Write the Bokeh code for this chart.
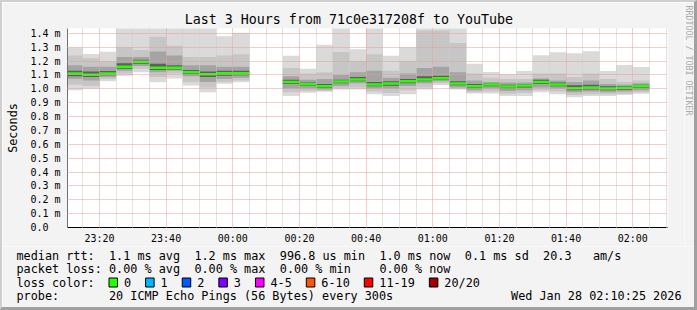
import math
from bokeh.plotting import figure
from bokeh.layouts import column, row
from bokeh.models import Range1d, FixedTicker, Title, ColumnDataSource
from bokeh.core.properties import value
from bokeh.embed import file_html
from bokeh.resources import INLINE

# ---------------- data ----------------
slot_end = ["23:15", "23:20", "23:25", "23:30", "23:35", "23:40", "23:45", "23:50", "23:55", "00:00", "00:05",
            "00:20", "00:25", "00:30", "00:35", "00:40", "00:45", "00:50", "00:55", "01:00", "01:05", "01:10",
            "01:15", "01:20", "01:25", "01:30", "01:35", "01:40", "01:45", "01:50", "01:55", "02:00", "02:05"]
median_ms = [1.110, 1.102, 1.110, 1.160, 1.195, 1.152, 1.152, 1.119, 1.105, 1.112, 1.112,
             1.050, 1.033, 1.019, 1.052, 1.067, 1.031, 1.038, 1.055, 1.067, 1.076, 1.038,
             1.019, 1.031, 1.017, 1.024, 1.050, 1.031, 1.005, 1.010, 1.002, 1.007, 1.019]
max_ms = [1.298, 1.252, 1.267, 1.44, 1.44, 1.44, 1.44, 1.44, 1.44, 1.380, 1.405,
          1.238, 1.145, 1.317, 1.44, 1.286, 1.44, 1.238, 1.300, 1.44, 1.44, 1.44,
          1.181, 1.121, 1.105, 1.129, 1.243, 1.264, 1.257, 1.271, 1.129, 1.171, 1.157]
p90_ms = [1.24, 1.22, 1.20, 1.30, 1.28, 1.375, 1.31, 1.23, 1.23, 1.24, 1.25,
          1.15, 1.11, 1.12, 1.265, 1.20, 1.25, 1.13, 1.20, 1.42, 1.42, 1.33,
          1.11, 1.08, 1.07, 1.07, 1.11, 1.11, 1.085, 1.11, 1.07, 1.05, 1.06]
p75_ms = [1.17, 1.16, 1.16, 1.23, 1.23, 1.27, 1.24, 1.17, 1.17, 1.16, 1.16,
          1.09, 1.065, 1.07, 1.10, 1.12, 1.13, 1.08, 1.11, 1.15, 1.16, 1.12,
          1.06, 1.05, 1.045, 1.045, 1.075, 1.06, 1.05, 1.06, 1.035, 1.03, 1.04]
p60_ms = [1.13, 1.125, 1.128, 1.185, 1.21, 1.18, 1.17, 1.135, 1.125, 1.13, 1.13,
          1.065, 1.045, 1.035, 1.065, 1.085, 1.05, 1.055, 1.07, 1.09, 1.095, 1.055,
          1.035, 1.04, 1.03, 1.035, 1.065, 1.045, 1.025, 1.03, 1.018, 1.02, 1.03]
p40_ms = [1.09, 1.085, 1.098, 1.145, 1.18, 1.135, 1.14, 1.105, 1.085, 1.095, 1.098,
          1.035, 1.02, 1.005, 1.04, 1.055, 1.018, 1.022, 1.04, 1.055, 1.066, 1.025,
          1.005, 1.018, 1.003, 1.01, 1.035, 1.018, 0.99, 0.995, 0.99, 0.993, 1.005]
p25_ms = [1.07, 1.06, 1.085, 1.13, 1.165, 1.12, 1.13, 1.09, 1.05, 1.07, 1.08,
          1.00, 1.00, 0.995, 1.02, 1.04, 1.00, 1.00, 1.02, 1.04, 1.055, 1.01,
          0.99, 1.00, 0.985, 0.99, 1.01, 1.00, 0.975, 0.98, 0.975, 0.98, 0.99]
p10_ms = [1.03, 1.02, 1.07, 1.11, 1.145, 1.085, 1.11, 1.05, 1.01, 1.05, 1.06,
          0.975, 0.985, 0.985, 1.005, 1.01, 0.98, 0.97, 0.99, 1.01, 1.04, 1.00,
          0.975, 0.98, 0.965, 0.97, 0.99, 0.98, 0.955, 0.96, 0.96, 0.965, 0.975]
min_ms = [0.990, 1.000, 1.055, 1.095, 1.120, 1.048, 1.074, 1.024, 0.976, 1.036, 1.048,
          0.948, 0.971, 0.978, 0.995, 0.995, 0.960, 0.948, 0.960, 0.995, 1.026, 0.995,
          0.967, 0.967, 0.948, 0.948, 0.976, 0.960, 0.940, 0.948, 0.948, 0.955, 0.964]

step_min = 5
window_end = "02:10:25"
window_hours = 3
x_tick_labels = ["23:20", "23:40", "00:00", "00:20", "00:40", "01:00", "01:20", "01:40", "02:00"]
y_ticks = [0.0, 0.1, 0.2, 0.3, 0.4, 0.5, 0.6, 0.7, 0.8, 0.9, 1.0, 1.1, 1.2, 1.3, 1.4]
y_max = 1.435

title_text = "Last 3 Hours from 71c0e317208f to YouTube"
y_label = "Seconds"
side_text = "RRDTOOL / TOBI OETIKER"
rtt_line = [(0, "median rtt:"), (13, "1.1 ms avg"), (25, "1.2 ms max"), (37, "996.8 us min"),
            (51, "1.0 ms now"), (63, "0.1 ms sd"), (74, "20.3"), (81, "am/s")]
loss_line = [(0, "packet loss:"), (13, "0.00 % avg"), (25, "0.00 % max"), (37, "0.00 % min"), (51, "0.00 % now")]
loss_title = "loss color:"
loss_labels = ["0", "1", "2", "3", "4-5", "6-10", "11-19", "20/20"]
loss_colors = ["#26ff00", "#00b8ff", "#0059ff", "#7e00ff", "#ff00ff", "#ff5500", "#ff0000", "#a10000"]
probe_line = [(0, "probe:"), (13, "20 ICMP Echo Pings (56 Bytes) every 300s")]
stamp_text = "Wed Jan 28 02:10:25 2026"


def to_min(hhmm):
    parts = [int(v) for v in hhmm.split(":")]
    m = parts[0] * 60 + parts[1] + (parts[2] / 60.0 if len(parts) > 2 else 0.0)
    return (m - 23 * 60) % (24 * 60)


x_end = to_min(window_end)
x_start = x_end - window_hours * 60
ends = [to_min(s) for s in slot_end]
src = ColumnDataSource(dict(
    left=[e - step_min for e in ends], right=ends,
    lo=min_ms, hi=[min(v, y_max + 0.01) for v in max_ms],
    p10=p10_ms, p90=p90_ms, p25=p25_ms, p75=p75_ms, p40=p40_ms, p60=p60_ms, med=median_ms))

MONO = "DejaVu Sans Mono"
BG = "#f3f3f3"
# whole image 697x310 = 2px/3px frame around a 692x305 content;
# content = [main chart | side credit strip] over legend strip
CONTENT_W, SIDE_W = 692, 10
MAIN_W = CONTENT_W - SIDE_W
MAIN_H, LEG_H = 244, 61
FL, FT = 65, 26
FW, FH = 600, 200

p = figure(width=MAIN_W, height=MAIN_H, output_backend="svg", toolbar_location=None, title=None,
           x_range=Range1d(x_start, x_end), y_range=Range1d(0, y_max),
           min_border_left=FL, min_border_right=MAIN_W - FL - FW, min_border_top=FT,
           min_border_bottom=MAIN_H - FT - FH,
           background_fill_color="white", border_fill_color=BG)
p.outline_line_color = None

# smoke layers + median
smoke = [("lo", "hi", "#dadada"), ("p10", "p90", "#c6c6c6"), ("p25", "p75", "#a4a4a4"), ("p40", "p60", "#5e5e5e")]
for b, t, c in smoke:
    p.quad(left="left", right="right", bottom=b, top=t, source=src, fill_color=c, line_color=None)
p.segment(x0="left", x1="right", y0="med", y1="med", source=src, line_color=loss_colors[0], line_width=2.5)

# axes
x_major = [to_min(s) for s in x_tick_labels]
x_minor = [m for m in range(int(math.ceil(x_start / step_min)) * step_min, int(x_end) + 1, step_min)
           if m not in x_major]
xt = FixedTicker(ticks=x_major, minor_ticks=x_minor)
p.xaxis.ticker = xt
p.xgrid.ticker = xt
p.xaxis.major_label_overrides = {m: lab for m, lab in zip(x_major, x_tick_labels)}
yt = FixedTicker(ticks=y_ticks)
p.yaxis.ticker = yt
p.ygrid.ticker = yt
p.yaxis.major_label_overrides = {v: ("%.1f m" % v if v > 0 else "0.0\u00a0\u00a0") for v in y_ticks}

for ax in (p.xaxis[0], p.yaxis[0]):
    ax.major_tick_out = 0
    ax.major_tick_in = 0
    ax.minor_tick_out = 0
    ax.minor_tick_in = 0
    ax.major_label_text_font = MONO
    ax.major_label_text_font_size = "10px"
    ax.major_label_text_color = "#000000"
p.xaxis.major_label_standoff = 5
p.yaxis.major_label_standoff = 7
p.xaxis.axis_line_color = "#000000"
p.yaxis.axis_line_color = "#707070"
p.yaxis.axis_label = y_label
p.yaxis.axis_label_text_font = MONO
p.yaxis.axis_label_text_font_size = "11.8px"
p.yaxis.axis_label_text_font_style = "normal"
p.yaxis.axis_label_text_color = "#000000"
p.yaxis.axis_label_standoff = 7

RED = "#e89a9a"
GREY = "#c8c8c8"
for g in (p.xgrid[0], p.ygrid[0]):
    g.level = "overlay"
    g.grid_line_color = RED
    g.grid_line_dash = "1 1"
    g.grid_line_width = 1
p.xgrid.minor_grid_line_color = GREY
p.xgrid.minor_grid_line_dash = "1 1"

p.add_layout(Title(text=title_text, align="left", offset=117.3, standoff=3,
                   text_font=MONO, text_font_size="13.3px", text_font_style="normal",
                   text_color="#000000"), "above")

# ---------------- side credit strip (its own pixel space) ----------------
side = figure(width=SIDE_W, height=MAIN_H, output_backend="svg", toolbar_location=None, title=None,
              x_range=Range1d(0, SIDE_W), y_range=Range1d(MAIN_H, 0),
              x_axis_type=None, y_axis_type=None, min_border=0,
              background_fill_color=BG, border_fill_color=BG)
side.outline_line_color = None
side.grid.visible = False
side.text(x=[SIDE_W / 2 - 0.5], y=[3], text=[side_text], angle=-math.pi / 2,
          text_font=value(MONO), text_font_size="8.3px", text_color="#acacac",
          text_baseline="middle", text_align="left")

# ---------------- legend strip below (its own pixel space) ----------------
leg = figure(width=CONTENT_W, height=LEG_H, output_backend="svg", toolbar_location=None, title=None,
             x_range=Range1d(0, CONTENT_W), y_range=Range1d(LEG_H, 0),
             x_axis_type=None, y_axis_type=None, min_border=0,
             background_fill_color=BG, border_fill_color=BG)
leg.outline_line_color = None
leg.grid.visible = False
for fig in (p, side, leg):
    try:
        fig.frame_align = False
    except Exception:
        pass

CW = 7.116
LX = 14
rows_y = [9, 22.5, 36, 49.5]
xs, ys, ts = [], [], []
for r, items in ((0, rtt_line), (1, loss_line), (3, probe_line)):
    for col, t in items:
        xs.append(LX + col * CW)
        ys.append(rows_y[r])
        ts.append(t)
xs.append(LX)
ys.append(rows_y[2])
ts.append(loss_title)

bx = LX + 13 * CW
box_l, box_r, box_c = [], [], []
for lbl, col in zip(loss_labels, loss_colors):
    box_l.append(bx)
    box_r.append(bx + 8.5)
    box_c.append(col)
    xs.append(bx + 15)
    ys.append(rows_y[2])
    ts.append(lbl)
    bx = bx + 15 + len(lbl) * CW + 14.5

leg.text(x=xs, y=ys, text=ts, text_font=value(MONO), text_font_size="11.8px",
         text_color="#000000", text_baseline="middle", text_align="left")
leg.text(x=[679], y=[rows_y[3]], text=[stamp_text], text_font=value(MONO), text_font_size="11.8px",
         text_color="#000000", text_baseline="middle", text_align="right")
leg.quad(left=box_l, right=box_r, top=[rows_y[2] - 4.5] * len(box_l), bottom=[rows_y[2] + 4.5] * len(box_l),
         fill_color=box_c, line_color="#000000", line_width=1)

layout = column(row(p, side, spacing=0), leg, spacing=0,
                styles={"border-top": "2px solid #cfcfcf", "border-left": "2px solid #cfcfcf",
                        "border-right": "3px solid #a0a0a0", "border-bottom": "3px solid #a0a0a0",
                        "box-sizing": "content-box"})

open("out.html", "w").write(file_html(layout, INLINE))
